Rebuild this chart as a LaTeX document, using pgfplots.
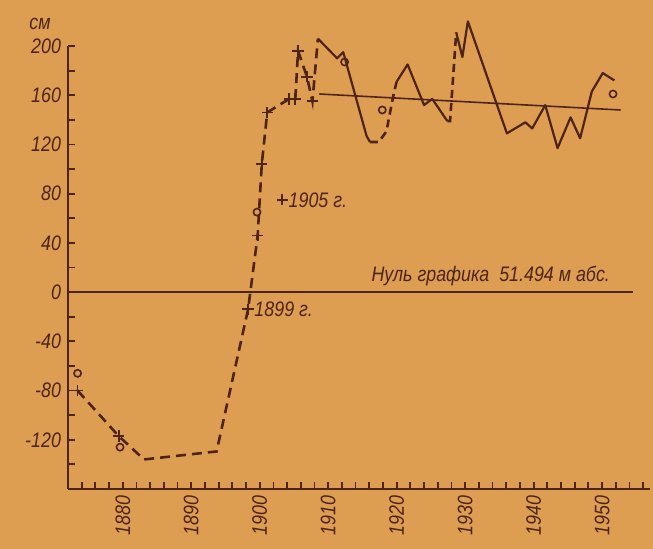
\documentclass[border=0pt]{standalone}
\usepackage{fontspec}
\setmainfont{Liberation Sans}[FakeStretch=0.85]
\usepackage{pgfplots}
\pgfplotsset{compat=1.18}
\definecolor{bgc}{RGB}{222,158,82}
\definecolor{ink}{RGB}{78,36,20}
\newcommand{\lbl}{\itshape\fontsize{10.5}{12}\selectfont}

\pgfplotstableread{
x y
1873.4 -80
1879.4 -117
1883.1 -136
1893.7 -129.5
1898.3 -14
1899.7 46
1900.3 104
1901.1 146
1904.3 157
1905.2 157
1905.6 196
1906.9 175
1907.7 155
1908.5 206
}\earlydashed

\pgfplotstableread{
x y
1908.5 206
1911.3 190
1912.2 195
1915.6 127
1916.1 122
}\solidA

\pgfplotstableread{
x y
1916.1 122
1917.4 122
1918.5 130.6
1919.6 162
1920.0 171
}\dashB

\pgfplotstableread{
x y
1920.0 171
1921.6 185
1924.0 152
1925.2 157
1927.4 139
}\solidB

\pgfplotstableread{
x y
1927.4 139
1927.8 139
1928.7 211
}\dashC

\pgfplotstableread{
x y
1928.7 211
1929.6 191
1930.4 220
1936.1 129
1938.8 138
1939.8 133
1941.7 152
1943.5 117
1945.4 142
1946.8 125
1948.5 163
1950.1 178
1951.8 172
}\solidC

\pgfplotstableread{
x y
1873.4 -80
1879.4 -117
1898.3 -14
1899.7 46
1900.3 104
1901.1 146
1904.3 157
1905.2 157
1905.6 196
1906.9 175
1907.7 155
1903.3 75
}\plusmarks

\pgfplotstableread{
x y
1873.4 -66
1879.6 -126
1899.6 65
1912.4 187
1917.9 148
1951.6 161
}\circmarks

\begin{document}
\begin{tikzpicture}
\fill[bgc] (-34pt,-30pt) rectangle (292.5pt,244.5pt);
\useasboundingbox (-34pt,-30pt) rectangle (292.5pt,244.5pt);
\begin{axis}[
  scale only axis, width=291pt, height=221.5pt,
  xmin=1872, xmax=1957, ymin=-160, ymax=200,
  axis x line=bottom, axis y line=left,
  axis line style={-, ink, line width=1.2pt},
  every tick/.style={ink, line width=0.9pt},
  tick align=inside, major tick length=3.5pt, minor tick length=3.5pt,
  xtick={1880,1890,1900,1910,1920,1930,1940,1950},
  xticklabels={1880,1890,1900,1910,1920,1930,1940,1950},
  minor xtick={1872,1874,...,1956},
  ytick={-120,-80,-40,0,40,80,120,160,200},
  yticklabels={-120,-80,-40,0,40,80,120,160,200},
  minor ytick={-140,-100,-60,-20,20,60,100,140,180},
  xticklabel style={rotate=90, anchor=east, font=\lbl, text=ink},
  yticklabel style={font=\lbl, text=ink},
  clip=false,
]
% zero line and trend line
\addplot[ink, line width=1pt] coordinates {(1872,0) (1954.5,0)};
\addplot[ink, line width=0.8pt] coordinates {(1908.7,161) (1952.7,148)};
% dashed parts
\addplot[ink, line width=1.3pt, dash pattern=on 5pt off 3pt] table {\earlydashed};
\addplot[ink, line width=1.3pt, dash pattern=on 4pt off 2.5pt] table {\dashB};
\addplot[ink, line width=1.3pt, dash pattern=on 4pt off 2.5pt] table {\dashC};
% solid parts
\addplot[ink, line width=1.1pt, line join=round] table {\solidA};
\addplot[ink, line width=1.1pt, line join=round] table {\solidB};
\addplot[ink, line width=1.1pt, line join=round] table {\solidC};
% marks
\addplot[ink, only marks, mark=+, mark size=2.8pt, line width=0.9pt] table {\plusmarks};
\addplot[ink, only marks, mark=o, mark size=1.8pt, line width=0.8pt] table {\circmarks};
% annotations
\node[anchor=west, text=ink, font=\lbl, inner sep=1pt, xshift=2pt] at (axis cs:1898.3,-14) {1899 г.};
\node[anchor=west, text=ink, font=\lbl, inner sep=1pt, xshift=2pt] at (axis cs:1903.3,75) {1905 г.};
\node[anchor=south east, text=ink, font=\lbl, inner sep=1pt, yshift=2pt] at (axis cs:1951.5,0) {Нуль графика\ \ 51.494 м абс.};
\node[text=ink, font=\lbl] at ([xshift=-14pt, yshift=11pt]rel axis cs:0,1) {см};
\end{axis}
\end{tikzpicture}
\end{document}
